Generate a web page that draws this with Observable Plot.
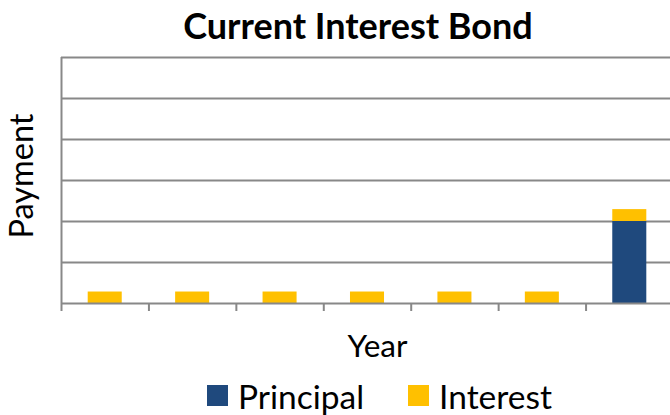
<!DOCTYPE html>
<html>
<head>
<meta charset="utf-8">
<script src="https://cdn.jsdelivr.net/npm/d3@7"></script>
<script src="https://cdn.jsdelivr.net/npm/@observablehq/plot@0.6"></script>
<style>
  html, body { margin: 0; padding: 0; background: #fff; }
  #wrap { position: relative; width: 670px; height: 415px; overflow: hidden; font-family: Lato, "Open Sans", sans-serif; color: #000; }
  #title { height: 45px; line-height: 50px; font-size: 36px; font-weight: bold; text-align: center; padding-left: 46px; box-sizing: border-box; white-space: nowrap; }
  #legend { height: 45px; display: flex; align-items: center; padding-left: 207px; padding-top: 6px; box-sizing: border-box; font-size: 33.5px; white-space: nowrap; }
  .item { display: flex; align-items: center; margin-right: 44px; }
  .sw { width: 21px; height: 21px; margin-right: 10px; }
</style>
</head>
<body>
<div id="wrap">
  <div id="title"></div>
  <div id="chart"></div>
  <div id="legend"></div>
</div>
<script>
const titleText = "Current Interest Bond";
const years = [1, 2, 3, 4, 5, 6, 7];
const principal = [0, 0, 0, 0, 0, 0, 200];
const interest = [28, 28, 28, 28, 28, 28, 29];
const seriesNames = ["Principal", "Interest"];
const seriesColors = ["#1F497D", "#FFC000"];
const yTicks = [0, 100, 200, 300, 400, 500, 600];
const yLabel = "Payment";
const xLabel = "Year";

const rows = [];
years.forEach((yr, i) => {
  rows.push({year: yr, series: "Principal", value: principal[i]});
  rows.push({year: yr, series: "Interest", value: interest[i]});
});
const bounds = [0, ...years];

document.getElementById("title").textContent = titleText;

const grid = "#888888";
const plot = Plot.plot({
  width: 670,
  height: 325,
  marginTop: 12,
  marginBottom: 67,
  marginLeft: 61,
  marginRight: 0,
  style: {fontFamily: "Lato, 'Open Sans', sans-serif", color: "#000", background: "transparent"},
  x: {type: "linear", domain: [0, years.length], range: [61, 673]},
  y: {domain: [0, 600]},
  color: {domain: seriesNames, range: seriesColors},
  marks: [
    Plot.ruleY(yTicks.filter(d => d > 0), {stroke: grid, strokeWidth: 2}),
    Plot.rectY(rows, {x1: d => d.year - 1, x2: d => d.year, y: "value", fill: "series", insetLeft: 26.7, insetRight: 26.7}),
    Plot.ruleY([0], {stroke: grid, strokeWidth: 2}),
    Plot.ruleX([0], {y1: 0, y2: 600, stroke: grid, strokeWidth: 2}),
    Plot.axisX({ticks: bounds, tickSize: 8, tickFormat: () => "", label: null, stroke: grid, strokeWidth: 2}),
    Plot.axisY({ticks: [], label: null}),
    Plot.text([yLabel], {text: d => d, frameAnchor: "left", textAnchor: "middle", rotate: -90, lineAnchor: "bottom", dx: -28.3, dy: -4.5, fontSize: 32.5, fill: "#000"}),
    Plot.text([xLabel], {text: d => d, frameAnchor: "bottom", textAnchor: "middle", lineAnchor: "bottom", dx: 11.5, dy: 53, fontSize: 31.5, fill: "#000"})
  ]
});
document.getElementById("chart").appendChild(plot);

const legend = document.getElementById("legend");
seriesNames.forEach((name, i) => {
  const item = document.createElement("div");
  item.className = "item";
  const sw = document.createElement("div");
  sw.className = "sw";
  sw.style.background = seriesColors[i];
  const lab = document.createElement("span");
  lab.textContent = name;
  item.appendChild(sw);
  item.appendChild(lab);
  legend.appendChild(item);
});
</script>
</body>
</html>
